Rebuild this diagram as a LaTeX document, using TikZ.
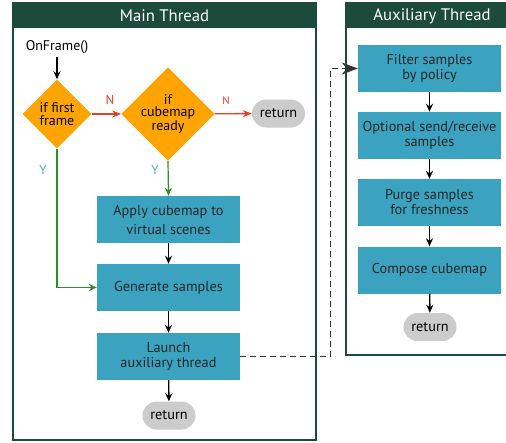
\documentclass[tikz,border=0pt]{standalone}
\usepackage{fontspec}
\setmainfont{PT Sans}
\usetikzlibrary{shapes.geometric,shapes.misc,arrows.meta}
\definecolor{hdr}{HTML}{1C4A3B}
\definecolor{boxc}{HTML}{3BA3C0}
\definecolor{orng}{HTML}{FFA400}
\definecolor{pill}{HTML}{CCCCCC}
\definecolor{grn}{HTML}{2E8B2E}
\definecolor{rd}{HTML}{E0422A}
\definecolor{ylab}{HTML}{45AED2}
\tikzset{
  x=1pt,y=-1pt,
  procbox/.style={draw=none,fill=boxc,minimum width=143pt,minimum height=47pt,align=center,font=\fontsize{14.3}{15}\selectfont,text=black!85,inner sep=1pt},
  decide/.style={diamond,fill=orng,aspect=1,minimum size=69pt,inner sep=0pt,align=center,font=\fontsize{14}{12.5}\selectfont},
  endpill/.style={rounded rectangle,fill=pill,minimum width=55pt,minimum height=28pt,inner sep=1pt,font=\fontsize{14.3}{15}\selectfont},
  blk/.style={-{Stealth[length=8pt,width=7pt]},line width=1.4pt,black},
  gr/.style={-{Stealth[length=8pt,width=7pt]},line width=1.2pt,grn},
  rda/.style={-{Stealth[length=9pt,width=7pt]},line width=1.4pt,rd},
  lbl/.style={font=\fontsize{13}{14}\selectfont},
  title/.style={text=white,font=\fontsize{16.7}{18}\selectfont},
}
\begin{document}
\begin{tikzpicture}
\useasboundingbox (0,0) rectangle (506,442);
\clip (0,0) rectangle (506,442);
% panels
\draw[hdr,line width=2.2pt,fill=white] (13,3) rectangle (316,440);
\fill[hdr] (13,3) rectangle (316,28);
\node[title] (mt) at (164.5,16) {Main Thread};
\draw[hdr,line width=2.2pt,fill=white] (346,3) rectangle (512,355);
\fill[hdr] (346,3) rectangle (512,28);
\node[title] (at) at (432,16) {Auxiliary Thread};
% main nodes
\node[font=\fontsize{14}{15}\selectfont] (on) at (57,47) {OnFrame()};
\node[decide] (d1) at (57,114) {if first\\frame};
\node[decide] (d2) at (168,114) {if\\cubemap\\ready};
\node[endpill] (r1) at (278.5,113.5) {return};
\node[procbox] (apply) at (168.5,219.5) {Apply cubemap to\\[4pt]virtual scenes};
\node[procbox] (gen) at (168.5,287.5) {Generate samples};
\node[procbox] (launch) at (168.5,356.5) {Launch\\auxiliary thread};
\node[endpill] (r2) at (169,415.5) {return};
% aux nodes
\node[procbox] (filter) at (429.5,68.5) {Filter samples\\by policy};
\node[procbox] (opt) at (429.5,135.5) {Optional send/receive\\samples};
\node[procbox] (purge) at (429.5,202.5) {Purge samples\\for freshness};
\node[procbox] (comp) at (429.5,270) {Compose cubemap};
\node[endpill] (r3) at (430,327) {return};
% labels
\node[lbl,text=rd] (n1) at (110,100) {N};
\node[text=rd,font=\fontsize{11}{12}\selectfont] (n2) at (226,101) {N};
\node[lbl,text=ylab] (y1) at (43,170) {Y};
\node[lbl,text=ylab] (y2) at (155,170) {Y};
% connectors
\draw[blk] (on) -- (d1);
\draw[rda] (d1) -- (d2);
\draw[rda] (d2) -- (r1);
\draw[gr] (d2.south) -- (apply.north);
\draw[gr] (d1.south) |- (gen.west);
\draw[blk] (apply) -- (gen);
\draw[blk] (gen) -- (launch);
\draw[blk] (launch) -- (r2);
\draw[blk] (filter) -- (opt);
\draw[blk] (opt) -- (purge);
\draw[blk] (purge) -- (comp);
\draw[blk] (comp) -- (r3);
\draw[black!80,line width=1.3pt,dash pattern=on 6pt off 4pt,-{Stealth[length=16pt,width=12pt,inset=5pt]}] (launch.east) -- ++(90,0) |- (filter.west);
\end{tikzpicture}
\end{document}
